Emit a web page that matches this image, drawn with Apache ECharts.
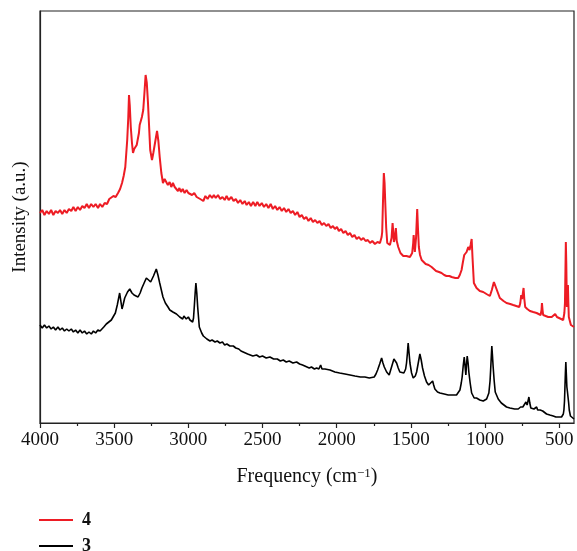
<!DOCTYPE html>
<html>
<head>
<meta charset="utf-8">
<script src="https://cdn.jsdelivr.net/npm/echarts@6/dist/echarts.min.js"></script>
<style>
  html, body { margin: 0; padding: 0; background: #fff; }
  #chart { width: 577px; height: 551px; }
</style>
</head>
<body>
<div id="chart"></div>
<script>
// Spectrum of compound 4 (wavenumber, cm-1 / relative intensity)
const waveRed = [4000,3985,3970,3955,3940,3925,3910,3895,3879,3865,3850,3835,3820,3805,3789,3775,3760,3745,3730,3715,3700,3685,3670,3655,3640,3625,3609,3595,3580,3564,3548,3533,3520,3505,3490,3474,3460,3447,3436,3425,3412,3405,3400,3395,3388,3380,3373,3365,3358,3348,3339,3333,3328,3313,3304,3296,3288,3280,3272,3264,3257,3245,3236,3227,3211,3202,3193,3182,3171,3160,3149,3138,3126,3115,3104,3092,3080,3070,3060,3050,3038,3025,3012,3000,2988,2975,2960,2944,2932,2920,2910,2899,2885,2870,2855,2840,2828,2815,2800,2785,2770,2755,2742,2728,2710,2695,2680,2665,2650,2635,2620,2607,2592,2578,2563,2548,2535,2520,2505,2490,2475,2460,2445,2430,2415,2400,2385,2370,2355,2340,2325,2310,2295,2280,2265,2250,2235,2220,2205,2190,2175,2160,2145,2130,2115,2100,2085,2070,2055,2040,2025,2012,1998,1985,1970,1955,1940,1925,1910,1895,1880,1865,1850,1835,1820,1805,1790,1775,1760,1742,1725,1708,1697,1693,1688,1682,1677,1673,1666,1659,1641,1630,1623,1618,1614,1608,1601,1595,1585,1570,1551,1530,1506,1491,1484,1481,1476,1473,1465,1457,1452,1446,1438,1427,1400,1380,1360,1345,1330,1310,1293,1275,1260,1240,1225,1200,1181,1170,1158,1150,1140,1131,1124,1113,1104,1097,1090,1084,1075,1057,1035,1012,990,967,954,940,930,922,910,900,875,855,830,810,769,762,756,750,747,740,735,729,715,697,675,652,625,619,616,612,608,574,550,540,527,515,506,473,465,461,457,455,452,448,444,441,438,435,421,400];
const intRed = [210,213,208,212,209,213,208,212,210,213,209,213,210,214,212,216,212,216,213,217,215,219,215,219,216,219,215,219,216,220,219,224,222,227,226,230,234,240,247,256,283,305,328,318,296,280,270,274,273,278,276,290,298,306,313,330,348,340,320,295,273,263,270,278,292,282,266,250,240,244,243,238,241,236,240,236,238,232,235,231,234,230,233,230,232,228,230,226,228,224,226,222,227,224,228,225,228,225,228,224,226,223,227,223,226,222,224,220,223,219,222,218,221,217,221,217,221,217,220,216,219,215,219,214,217,213,216,212,215,211,214,210,212,208,211,206,208,204,206,202,205,201,203,200,202,198,200,197,199,195,197,194,196,192,194,190,192,188,190,186,188,184,186,183,185,182,183,180,182,179,181,180,186,191,220,250,240,223,195,180,178,185,200,190,181,185,195,182,176,170,167,167,166,170,180,188,178,171,185,214,195,176,168,163,159,158,156,154,152,151,150,148,147,147,146,145,145,148,153,160,168,170,171,176,173,178,184,165,140,135,132,131,129,127,133,141,137,135,129,125,122,120,119,118,116,120,128,124,124,135,124,116,114,112,111,110,108,113,120,113,108,106,106,106,109,106,105,103,110,120,160,181,160,116,126,138,120,106,98,96];

// Spectrum of compound 3
const waveBlack = [4000,3985,3970,3955,3940,3925,3910,3895,3879,3865,3850,3835,3820,3805,3789,3775,3760,3745,3730,3715,3700,3685,3670,3654,3640,3625,3610,3595,3587,3570,3553,3519,3492,3479,3463,3455,3447,3440,3429,3410,3395,3380,3366,3339,3325,3313,3298,3283,3268,3254,3235,3216,3205,3193,3171,3155,3137,3125,3115,3104,3092,3080,3070,3058,3048,3038,3030,3014,3000,2989,2980,2971,2965,2960,2954,2949,2943,2937,2926,2910,2899,2887,2875,2865,2854,2840,2820,2805,2787,2770,2755,2740,2720,2697,2680,2660,2645,2630,2615,2600,2590,2565,2540,2520,2500,2475,2450,2425,2400,2380,2360,2340,2320,2295,2270,2250,2230,2215,2202,2185,2170,2150,2135,2120,2108,2099,2079,2045,2012,1980,1944,1910,1877,1840,1810,1780,1747,1735,1724,1710,1697,1688,1679,1663,1646,1638,1630,1614,1605,1596,1585,1574,1547,1535,1529,1523,1518,1512,1506,1495,1484,1470,1461,1450,1439,1430,1421,1408,1394,1380,1367,1353,1346,1338,1320,1304,1275,1248,1220,1192,1180,1169,1160,1154,1147,1140,1134,1129,1125,1120,1114,1109,1100,1090,1073,1057,1035,1012,989,974,966,962,957,954,950,945,938,931,911,890,877,855,832,800,776,760,753,745,736,724,716,710,704,698,691,670,660,652,645,637,628,619,611,603,585,563,540,522,500,484,472,468,464,461,458,455,452,448,444,441,436,432,424,416,400];
const intBlack = [98,95,98,95,97,94,96,93,96,93,95,92,94,92,94,91,93,90,93,90,92,89,91,89,92,90,93,92,94,96,99,103,110,118,130,122,114,118,125,131,134,130,128,126,130,135,140,145,143,141,147,154,148,140,126,120,116,113,115,111,113,109,110,106,108,104,107,104,106,103,104,101,105,116,130,140,130,116,96,90,87,86,84,85,82,83,81,82,80,81,78,79,77,77,75,74,72,71,70,69,69,67,68,66,67,65,66,64,64,62,63,61,62,60,61,59,58,57,56,55,56,54,55,54,58,54,54,53,51,50,49,48,47,46,46,45,46,49,53,59,65,60,56,51,48,52,56,64,62,60,55,51,50,54,60,70,80,70,60,50,45,47,51,60,69,63,55,47,41,38,36,42,38,34,31,30,29,28,28,28,30,33,40,46,57,66,56,48,58,67,60,51,40,30,25,25,23,22,24,30,42,53,68,77,68,56,42,31,24,20,18,16,15,14,14,16,18,16,16,21,18,22,26,20,15,14,15,16,13,12,13,14,12,10,9,8,7,6,6,6,9,13,22,36,50,61,50,36,31,30,20,13,7,6,4];

// Axis ticks (cm-1)
const majorTicks = [4000, 3500, 3000, 2500, 2000, 1500, 1000, 500];
const minorTicks = [3750, 3250, 2750, 2250, 1750, 1250, 750];

const seriesNames = ['4', '3'];
const seriesColors = ['#ed1c24', '#000000'];

const pairs = (xs, ys) => xs.map((x, i) => [x, ys[i]]);

const serif = '"Liberation Serif", "DejaVu Serif", serif';
const axisColor = '#222';
const legendText = { fontFamily: serif, fontSize: 18, fontWeight: 'bold', color: '#111', padding: [0, 0, 0, 4] };

const chart = echarts.init(document.getElementById('chart'), null, { renderer: 'canvas' });

chart.setOption({
  animation: false,
  backgroundColor: '#fff',
  grid: {
    left: 40, right: 3, top: 11, bottom: 128,
    show: true, borderColor: axisColor, borderWidth: 1.2,
    backgroundColor: 'transparent'
  },
  legend: [
    {
      left: 34, top: 506, itemWidth: 34, itemHeight: 2, icon: 'rect',
      data: [seriesNames[0]], textStyle: legendText
    },
    {
      left: 34, top: 532, itemWidth: 34, itemHeight: 2, icon: 'rect',
      data: [seriesNames[1]], textStyle: legendText
    }
  ],
  xAxis: [
    {
      type: 'value', inverse: true, min: 400, max: 4000, position: 'bottom', offset: 0,
      axisLine: { show: true, onZero: false, lineStyle: { color: axisColor, width: 1.2 } },
      axisTick: { show: true, inside: false, length: 5, customValues: majorTicks, lineStyle: { color: axisColor, width: 1.2 } },
      axisLabel: {
        customValues: majorTicks, margin: 8, fontFamily: serif, fontSize: 19, color: '#111',
        formatter: (v) => String(v)
      },
      splitLine: { show: false },
      name: 'Frequency (cm{sup|−1})',
      nameLocation: 'middle', nameGap: 44,
      nameTextStyle: {
        fontFamily: serif, fontSize: 20, color: '#111',
        rich: { sup: { fontFamily: serif, fontSize: 13, verticalAlign: 'top', lineHeight: 14, color: '#111' } }
      }
    },
    {
      type: 'value', inverse: true, min: 400, max: 4000, position: 'bottom', offset: 0,
      axisLine: { show: false },
      axisTick: { show: true, inside: false, length: 3, customValues: minorTicks, lineStyle: { color: axisColor, width: 1.2 } },
      axisLabel: { show: false },
      splitLine: { show: false }
    }
  ],
  yAxis: {
    type: 'value', min: 0, max: 412,
    axisLine: { show: true, onZero: false, lineStyle: { color: axisColor, width: 1.2 } },
    axisTick: { show: false },
    axisLabel: { show: false },
    splitLine: { show: false },
    name: 'Intensity (a.u.)',
    nameLocation: 'middle', nameGap: 10, nameRotate: 90,
    nameTextStyle: { fontFamily: serif, fontSize: 19, color: '#111' }
  },
  series: [
    {
      name: seriesNames[0], type: 'line', xAxisIndex: 0,
      data: pairs(waveRed, intRed),
      showSymbol: false, symbol: 'none',
      lineStyle: { color: seriesColors[0], width: 2 },
      itemStyle: { color: seriesColors[0] }
    },
    {
      name: seriesNames[1], type: 'line', xAxisIndex: 0,
      data: pairs(waveBlack, intBlack),
      showSymbol: false, symbol: 'none',
      lineStyle: { color: seriesColors[1], width: 1.6 },
      itemStyle: { color: seriesColors[1] }
    }
  ]
});
</script>
</body>
</html>
